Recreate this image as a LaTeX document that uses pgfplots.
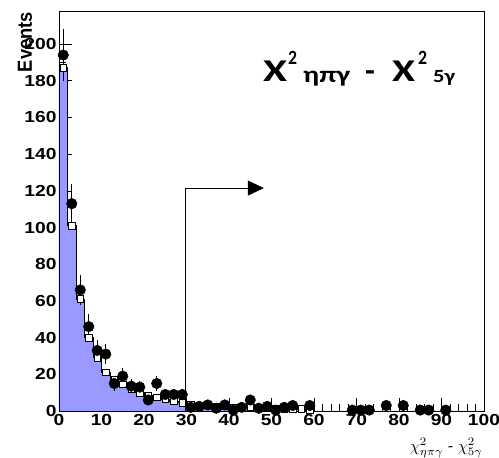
\documentclass[border=0pt]{standalone}
\usepackage{pgfplots}
\pgfplotsset{compat=1.18}
\usepackage{pgfplotstable}
\usepackage{graphicx}
\usepackage{fontspec}
\setmainfont{Liberation Sans}
\newfontfamily\tickfont{Liberation Sans}[FakeStretch=1.2]
\newfontfamily\calibri{Carlito}
\usetikzlibrary{arrows.meta,calc}
\definecolor{mcblue}{RGB}{153,153,255}

\pgfplotstableread{
x y e
1 194 14
3 113 10.6
5 66 8.1
7 46 6.8
9 33 5.7
11 31 5.6
13 15 3.9
15 19 4.4
17 13.5 3.7
19 13 3.6
21 6 2.4
23 15 3.9
25 9 3
27 9 3
29 9 3
31 2 1.4
33 2.5 1.6
35 3.3 1.8
37 1.5 1.2
39 3.3 1.8
41 0.5 1
43 2 1.4
45 6 2.4
47 1.5 1.2
49 2.5 1.6
51 0.5 1
53 2 1.4
55 3 1.7
59 3 1.7
69 0.5 1
71 0.5 1
73 0.5 1
77 3 1.7
81 3 1.7
85 0.5 1
87 0.5 1
91 0.5 1
}\datatab

\pgfplotstableread{
x y
1 187
3 101
5 61
7 40
9 29
11 21
13 17
15 14.5
17 12
19 10
21 8.5
23 7.5
25 6.5
27 5.5
29 4.5
31 3.5
33 3
35 3
37 2.5
39 2.5
41 2
43 2
45 2
47 1.5
49 1.5
51 1.5
53 1
55 1
57 1
59 0.5
}\mctab

\begin{document}
\begin{tikzpicture}
\begin{axis}[
  name=ax,
  scale only axis,
  width=425pt, height=400pt,
  xmin=0, xmax=100, ymin=0, ymax=218,
  axis line style={line width=0.8pt},
  tick align=inside,
  xtick pos=bottom, ytick pos=left,
  xtick={0,10,...,100},
  ytick={0,20,...,200},
  minor x tick num=4,
  minor y tick num=3,
  major tick length=13pt,
  minor tick length=7pt,
  tick style={black, line width=0.6pt},
  ticklabel style={font=\tickfont\bfseries\fontsize{16}{16}\selectfont},
  yticklabel style={xshift=1pt},
  /pgf/number format/assume math mode=true,
  clip=false,
]
\addplot[const plot mark left, fill=mcblue, draw=black, line width=0.8pt] coordinates {
(0,187) (2,101) (4,61) (6,40) (8,29) (10,21) (12,17) (14,14.5) (16,12) (18,10)
(20,8.5) (22,7.5) (24,6.5) (26,5.5) (28,4.5) (30,3.5) (32,3) (34,3) (36,2.5) (38,2.5)
(40,2) (42,2) (44,2) (46,1.5) (48,1.5) (50,1.5) (52,1) (54,1) (56,1) (58,0.5) (60,0) (100,0)
} \closedcycle;
\addplot[only marks, mark=square*, mark size=3.3pt, mark options={fill=white, draw=black, line width=0.8pt}] table[x=x,y=y] {\mctab};
\addplot[only marks, mark=*, mark size=5.3pt, black,
  error bars/.cd, y dir=both, y explicit, error mark=none,
  error bar style={line width=0.8pt, black}] table[x=x, y=y, y error=e] {\datatab};
\draw[line width=0.6pt, -{Triangle[length=16pt,width=15pt]}] (axis cs:29.7,0) |- (axis cs:48.2,121.5);
\end{axis}

% Events label
\node[rotate=90, anchor=base east, inner sep=0] at ($(ax.north west)+(-27pt,-1pt)$)
  {\resizebox{60pt}{14pt}{\bfseries Events}};

% x axis label
\node[anchor=south east, inner sep=0] at ($(ax.south east)+(-1pt,-46.5pt)$)
  {\resizebox{73pt}{!}{$\chi^{2}_{\eta\pi\gamma}$ - $\chi^{2}_{5\gamma}$}};

% big annotation
\begin{scope}[shift={(ax.north west)}]
\node[anchor=base west, inner sep=0] at (204pt,-71pt) {\resizebox{24pt}{20.6pt}{\calibri\bfseries Χ}};
\node[anchor=base west, inner sep=0] at (229pt,-54pt) {\resizebox{9pt}{13.3pt}{\calibri\bfseries 2}};
\node[anchor=base west, inner sep=0] at (244pt,-72pt) {\resizebox*{47pt}{15pt}{\calibri\bfseries ηπγ}};
\node[anchor=base west, inner sep=0] at (306pt,-71pt) {\calibri\bfseries\fontsize{32}{32}\selectfont -};
\node[anchor=base west, inner sep=0] at (333pt,-71pt) {\resizebox{23pt}{20.6pt}{\calibri\bfseries Χ}};
\node[anchor=base west, inner sep=0] at (359pt,-54pt) {\resizebox{9pt}{13.3pt}{\calibri\bfseries 2}};
\node[anchor=base west, inner sep=0] at (374pt,-72pt) {\resizebox*{22pt}{15pt}{\calibri\bfseries 5γ}};
\end{scope}

\pgfresetboundingbox
\useasboundingbox ($(ax.south west)+(-59pt,-47pt)$) rectangle ($(ax.north east)+(15pt,11pt)$);
\end{tikzpicture}
\end{document}
